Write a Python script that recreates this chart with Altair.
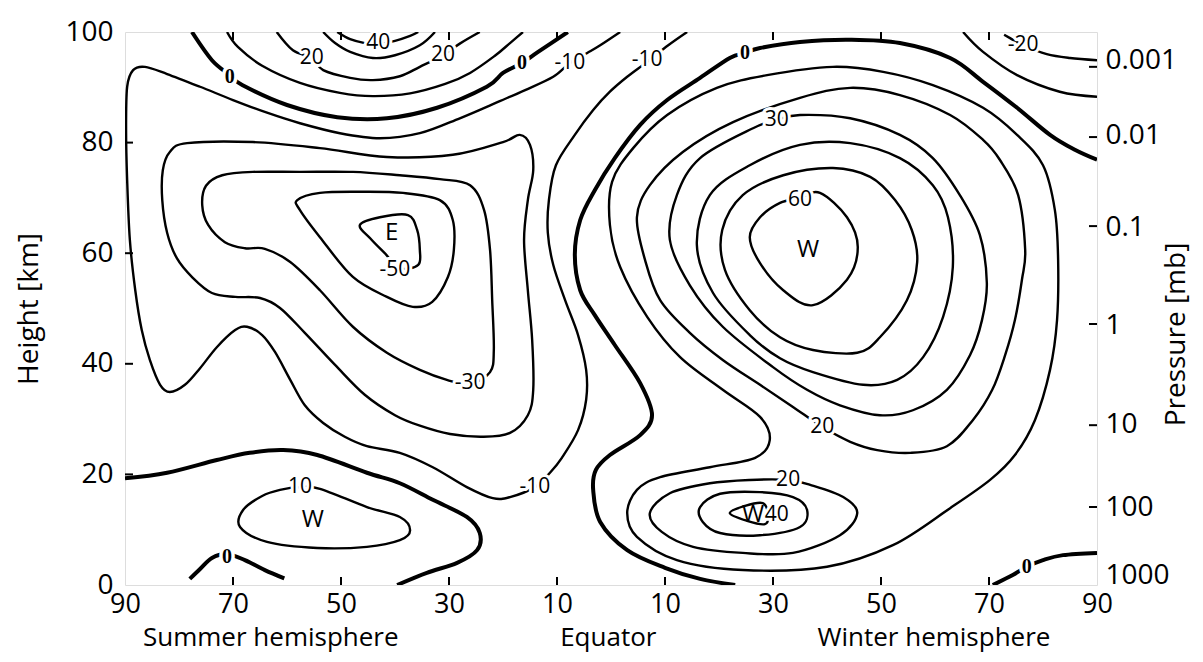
import altair as alt
import pandas as pd

# ---------------- axis values ----------------
lat_ticks = [-90, -70, -50, -30, -10, 10, 30, 50, 70, 90]
inner_lat_ticks = [-70, -50, -30, -10, 10, 30, 50, 70]
km_ticks = [0, 20, 40, 60, 80, 100]
inner_km_ticks = [20, 40, 60, 80]
p_labels = ["0.001", "0.01", "0.1", "1", "10", "100", "1000"]
p_label_km = [94.8, 81.2, 64.6, 47.0, 29.1, 14.0, 1.8]
p_tick_km = [93.7, 81.0, 64.9, 47.2, 28.9, 14.1]
region_names = ["Summer hemisphere", "Equator", "Winter hemisphere"]
region_lat = [-63, -0.5, 59.8]

# ---------------- contour lines (lat, km); negative lat = summer side ----------------
# thick zero lines
z_summer_top = [(-77.6, 100), (-73.9, 94.9), (-70.6, 92.2), (-68.3, 90.4), (-60, 86.8), (-50.7, 84.6),
                (-41.5, 84.4), (-32.2, 86.3), (-23, 90.1), (-20, 92.6), (-16.5, 94.4), (-13.5, 96.4), (-8, 100)]
z_summer_20km = [(-90, 19.3), (-82.2, 20.3), (-73, 22.6), (-66.9, 23.9), (-60.7, 24.4), (-54.4, 23.5),
                 (-45.2, 20.3), (-39.1, 18.4), (-33, 15.4), (-26.7, 12.3), (-24.3, 9.4), (-24.8, 6.3),
                 (-28.5, 4.0), (-34.1, 2.2), (-39.6, 0)]
z_summer_ground = [(-78.0, 1.1), (-76.1, 2.9), (-73.9, 4.9), (-71.1, 5.6), (-67.8, 4.5), (-64.1, 2.7), (-60.5, 1.2)]
z_equator = [(90, 76.9), (85.9, 78.7), (81.3, 81.4), (75.2, 86.3), (68.9, 91.0), (62.8, 95.3), (53.5, 98.0),
             (44.3, 98.6), (35, 98.2), (27.6, 97.1), (24.8, 96.2), (22, 95.3), (16.5, 91.7), (10.4, 87.7),
             (5.4, 83.2), (0.7, 77.2), (-3.0, 71.4), (-5.7, 66.0), (-6.7, 59.7), (-5.7, 53.3), (-3.0, 48.8),
             (0.7, 43.4), (5.4, 36.5), (7.6, 30.7), (5.4, 27.1), (-0.2, 23.5), (-2.8, 20.8), (-3.3, 17.2),
             (-2.0, 11.4), (3.0, 6.3), (10.0, 3.1), (16.5, 1.1), (23, 0)]
z_winter_ground = [(70.7, 0), (74.4, 1.8), (77, 3.3), (80, 4.5), (83.7, 5.4), (90, 5.8)]

# thin open lines
c10_top = [(-71.1, 100), (-69.1, 97.3), (-64.6, 93.9), (-57.6, 90.8), (-50.2, 89.0), (-44.1, 88.4),
           (-37.2, 88.9), (-30.7, 90.6), (-26.1, 92.6), (-21.5, 95.7), (-18.7, 98.0), (-16.3, 100)]
c20_top = [(-61.9, 100), (-58.9, 96.7), (-55.4, 95.3), (-53.3, 93.1), (-48.3, 91.7), (-44.1, 91.3),
           (-39.1, 92.0), (-35.4, 93.7), (-31.1, 95.8), (-28.0, 97.9), (-24.3, 100)]
c30_top = [(-53.3, 100), (-51.1, 98.0), (-48.3, 96.4), (-44.1, 95.3), (-40.0, 95.8), (-35.4, 97.6), (-32.6, 100)]
c40_top = [(-50.7, 100), (-48.3, 98.7), (-45.6, 98.0), (-43.1, 97.8), (-40, 98.4), (-37.2, 99.3), (-35.7, 100)]
cm10_summer = [(1.7, 100), (-2.0, 97.6), (-4.4, 96.2), (-7.6, 94.4), (-10.7, 91.9), (-15.9, 89.5),
               (-20.6, 87.5), (-28.0, 84.4), (-35.4, 81.7), (-42.8, 80.8), (-50.2, 81.7), (-57.6, 83.5),
               (-63.7, 85.4), (-70, 87.7), (-76.1, 90.1), (-82.2, 92.4), (-86.3, 93.7), (-88.5, 93.1),
               (-89.6, 90.1), (-89.8, 82.3), (-89.6, 73.2), (-89.1, 62.4), (-88.1, 53.3), (-86.9, 46.1),
               (-85.4, 40.7), (-83.5, 36.2), (-81.7, 34.9), (-78.9, 36.2), (-76.1, 39.2), (-73.0, 43.0),
               (-69.6, 46.1), (-67.4, 46.7), (-64.6, 45.2), (-62.2, 42.1), (-59.4, 37.1), (-56.7, 32.5),
               (-53.3, 29.3), (-49.3, 26.8), (-45.2, 25.1), (-39.1, 23.9), (-33.0, 21.3), (-26.7, 17.7),
               (-21.9, 15.7), (-18.7, 15.9), (-14.1, 17.7), (-11.3, 20.3), (-9.1, 23.0), (-6.1, 28.0),
               (-4.6, 33.5), (-4.6, 38.9), (-6.1, 45.2), (-8.5, 51.5), (-10.7, 57.9), (-11.7, 63.7),
               (-11.5, 69.6), (-10.2, 75.9), (-6.7, 81.4), (-3.3, 85.9), (-0.2, 89.2), (3.0, 91.9),
               (6.7, 94.6), (10.6, 97.6), (14.1, 100)]
cm10_winter_top = [(65.2, 100), (68.9, 96.4), (75.2, 92.2), (83.1, 89.2), (90, 88.3)]
cm20_winter_top = [(72.8, 99.5), (73.9, 98.9), (76.3, 97.6), (80.7, 96.0), (85, 95.3), (90, 94.9)]

# thin closed lines
cm20_summer = [(-16.9, 81.4), (-15.0, 79.6), (-14.4, 75.0), (-15.4, 69.6), (-16.1, 62.4), (-15.4, 53.3),
               (-14.6, 44.3), (-14.4, 35.3), (-15.4, 30.7), (-18.7, 27.5), (-23.7, 26.8), (-29.8, 27.3),
               (-35.4, 28.8), (-40.0, 30.7), (-45.6, 34.4), (-51.1, 39.8), (-56.7, 45.6), (-61.3, 50.1),
               (-65.0, 51.9), (-69.6, 52.1), (-73.9, 52.8), (-77.4, 55.5), (-80.4, 59.1), (-82.2, 63.7),
               (-83.1, 69.6), (-83.0, 75.0), (-81.7, 78.3), (-78.5, 79.9), (-66.3, 80.1), (-53.9, 79.0),
               (-41.5, 77.4), (-29.3, 77.8), (-20, 80.1)]
cm30_summer = [(-30.4, 37.1), (-26.1, 36.3), (-22.4, 38.5), (-21.7, 42.5), (-22.0, 51.5), (-22.4, 60.6),
               (-23.5, 67.8), (-26.1, 72.3), (-31.7, 73.4), (-39.1, 74.1), (-47.8, 74.7), (-57.6, 74.7),
               (-66.3, 74.7), (-72.0, 74.1), (-75.0, 72.2), (-75.7, 68.7), (-74.6, 65.1), (-71.5, 62.0),
               (-67.8, 60.9), (-64.1, 60.8), (-59.4, 58.4), (-53.9, 53.3), (-47.8, 46.7), (-41.5, 42.0),
               (-35.4, 38.9)]
cm40_summer = [(-58.1, 69.6), (-53.9, 70.9), (-46.5, 71.1), (-38.5, 70.9), (-31.7, 69.6), (-29.3, 66.0),
               (-29.1, 60.6), (-30.2, 55.7), (-33.1, 51.2), (-36.7, 50.3), (-41.5, 52.1), (-47.8, 55.7),
               (-53.9, 62.9), (-57.6, 67.8)]
cm50_summer = [(-46.5, 65.1), (-42.8, 66.5), (-37.6, 66.9), (-35.9, 64.2), (-35.4, 60.6), (-35.7, 57.9),
               (-39.1, 57.3), (-41.9, 60.0), (-44.6, 62.7)]
c10_summer_low = [(-61.3, 17.2), (-57.6, 17.7), (-53.9, 17.4), (-45.2, 14.1), (-39.1, 12.3), (-37.2, 9.9),
                  (-39.1, 8.1), (-45.2, 6.9), (-54.4, 6.7), (-63.7, 7.8), (-68.7, 10.5), (-68.1, 13.6),
                  (-64.6, 16.1)]
c10_winter = [(41.1, 93.7), (50.4, 92.8), (59.6, 90.4), (68.9, 86.3), (75.2, 81.4), (80, 75.9), (82.2, 67.8),
              (82.8, 58.8), (82.6, 47.9), (81.3, 38.9), (78.5, 29.8), (74.8, 23.5), (70.2, 19.0),
              (62.8, 13.9), (52.2, 7.2), (40, 3.3), (24.4, 2.7), (12.2, 4.5), (4.8, 8.7), (3.0, 13.0),
              (4.8, 17.2), (9.1, 19.5), (18.3, 21.3), (26.7, 23.0), (29.4, 26.2), (27.6, 30.4), (20.7, 35.3),
              (12.8, 41.2), (6.7, 48.5), (1.7, 57.5), (-0.2, 65.1), (0.2, 72.9), (4.1, 79.0), (10.4, 85.0),
              (19.6, 89.9), (28.9, 92.2)]
c20_winter = [(4.8, 66.5), (6.3, 58.8), (9.1, 51.5), (14.6, 45.6), (20.7, 40.7), (27.6, 36.2), (33.7, 32.2),
              (39.1, 28.6), (44.3, 25.9), (49.3, 24.4), (55.4, 23.9), (62.2, 25.1), (67.0, 29.8),
              (70.6, 35.3), (73.0, 41.6), (74.8, 47.9), (76.1, 55.2), (76.7, 60.6), (75.4, 70.5),
              (72.0, 76.9), (68.9, 80.5), (62.8, 85.0), (53.5, 88.6), (44.3, 89.9), (35, 88.1), (22.6, 83.7),
              (13.3, 78.3), (7.2, 72.3)]
c30_winter = [(12.2, 70.5), (16.5, 77.2), (26.3, 82.6), (30.7, 84.1), (35, 85.0), (44.3, 84.4), (53.5, 81.4),
              (59.6, 77.2), (64.6, 70.5), (68.3, 63.3), (69.6, 54.6), (68.7, 47.9), (66.5, 41.6), (62.2, 35.3),
              (55.9, 31.6), (49.8, 30.7), (42.4, 32.5), (36.3, 35.3), (30, 39.4), (20.7, 46.7), (14.6, 54.2),
              (10.9, 62.4)]
c40_winter = [(18.3, 70.5), (25.7, 75.9), (35, 79.6), (44.3, 79.9), (53.5, 77.2), (59.6, 72.3), (62.4, 66.5),
              (63.3, 57.5), (61.5, 48.5), (57.8, 41.2), (53.0, 37.1), (46.7, 36.2), (37.4, 38.5), (31.3, 41.0),
              (25.7, 45.2), (18.9, 52.8), (15.9, 61.5)]
c50_winter = [(24.4, 70.5), (31.9, 74.1), (41.1, 75.4), (48.0, 73.8), (52.6, 69.6), (55.7, 64.2), (56.7, 58.4),
              (54.8, 51.5), (49.8, 44.8), (45.6, 42.0), (37.4, 42.5), (31.3, 44.8), (25.7, 49.7), (21.1, 57.0),
              (20.6, 64.2)]
c60_winter = [(35, 70.0), (38.7, 70.9), (43.7, 66.5), (45.7, 61.1), (43.7, 55.2), (37.4, 50.6), (31.9, 53.3),
              (27.6, 58.2), (25.7, 62.9), (27.6, 66.5), (31.3, 69.1)]
c20_low = [(32.8, 19.0), (25.7, 19.0), (18.3, 18.4), (10.9, 16.6), (7.2, 13.0), (9.4, 9.6), (15.2, 6.9),
           (24.4, 5.8), (33.7, 5.8), (42.4, 9.0), (45.6, 13.0), (43.0, 15.9), (36.9, 18.1)]
c30_low = [(16.5, 14.1), (20.2, 16.5), (27.6, 16.8), (33.7, 15.9), (36.3, 13.6), (35, 10.5), (27.6, 9.0),
           (20.2, 9.4), (17.0, 11.4)]
c40_low = [(22.0, 13.0), (24.8, 14.3), (28.1, 14.8), (29.1, 12.7), (28.5, 11.0), (25.2, 11.6)]

# ---------------- contour labels ----------------
label_text = ["40", "20", "20", "-10", "-10", "30", "60", "-20", "-50", "-30", "-10", "10", "20", "20", "40"]
label_lat = [-43.1, -55.4, -31.1, -7.6, 6.7, 30.7, 35, 76.3, -40, -26.1, -14.1, -57.6, 39.1, 32.8, 30.7]
label_km = [98.0, 95.3, 95.8, 94.4, 94.9, 84.1, 69.6, 97.6, 57.0, 36.5, 17.7, 17.7, 28.6, 19.0, 12.7]
zero_lat = [-70.6, -16.5, 24.8, -71.1, 77.0]
zero_km = [91.9, 94.4, 96.2, 5.1, 3.3]
letter_text = ["E", "W", "W", "W"]
letter_lat = [-40.6, 36.5, -55.2, 26.3]
letter_km = [63.7, 60.6, 11.8, 12.7]

FONT = "Open Sans"


def curves_df(curves):
    rows = []
    for name, pts in curves.items():
        for i, (la, km) in enumerate(pts):
            rows.append({"cid": name, "i": i, "lat": la, "km": km})
    return pd.DataFrame(rows)


thick_df = curves_df({"z1": z_summer_top, "z2": z_summer_20km, "z3": z_summer_ground,
                      "z4": z_equator, "z5": z_winter_ground})
open_df = curves_df({"a": c10_top, "b": c20_top, "c": c30_top, "d": c40_top, "e": cm10_summer,
                     "f": cm10_winter_top, "g": cm20_winter_top})
closed_df = curves_df({"a": cm20_summer, "b": cm30_summer, "c": cm40_summer, "d": cm50_summer,
                       "e": c10_summer_low, "f": c10_winter, "g": c20_winter, "h": c30_winter,
                       "i": c40_winter, "j": c50_winter, "k": c60_winter, "l": c20_low, "m": c30_low,
                       "n": c40_low})

labels_df = pd.DataFrame({"t": label_text, "lat": label_lat, "km": label_km})
zeros_df = pd.DataFrame({"t": ["0"] * len(zero_lat), "lat": zero_lat, "km": zero_km})
letters_df = pd.DataFrame({"t": letter_text, "lat": letter_lat, "km": letter_km})
regions_df = pd.DataFrame({"t": region_names, "lat": region_lat})
lat_tick_df = pd.DataFrame({"lat": inner_lat_ticks})
km_tick_df = pd.DataFrame({"km": inner_km_ticks})
p_tick_df = pd.DataFrame({"km": p_tick_km})

xs = alt.Scale(domain=[-90, 90], nice=False, zero=False)
ys = alt.Scale(domain=[0, 100], nice=False, zero=False)

x_axis = alt.Axis(orient="bottom", values=lat_ticks, labelExpr="'' + abs(datum.value)", ticks=False,
                  domain=False, grid=False, labelFontSize=27, labelFont=FONT, labelColor="black",
                  labelPadding=6, labelFlush=False, labelOverlap=False, title=None)
y_axis = alt.Axis(values=km_ticks, ticks=False, domain=False, grid=False, labelFontSize=28,
                  labelFont=FONT, labelColor="black", labelPadding=12, labelOverlap=False,
                  title="Height [km]", titleFont=FONT, titleFontSize=28, titleFontWeight="normal",
                  titleColor="black", titleAngle=270, titleX=-96, titleY=276.5, titleBaseline="middle")

p_expr = "''"
for v, t in reversed(list(zip(p_label_km, p_labels))):
    p_expr = f"abs(datum.value - {v}) < 0.01 ? '{t}' : ({p_expr})"
p_axis = alt.Axis(orient="right", values=p_label_km, labelExpr=p_expr, ticks=False, domain=False,
                  grid=False, labelFontSize=28, labelFont=FONT, labelColor="black", labelPadding=8,
                  labelOverlap=False, title="Pressure [mb]", titleFont=FONT, titleFontSize=28,
                  titleFontWeight="normal", titleColor="black", titleAngle=270, titleX=79, titleY=302,
                  titleBaseline="middle")

# every layer that has a lat field shares the same x axis definition
X0 = alt.X("lat:Q", scale=xs, axis=x_axis)
Y0 = alt.Y("km:Q", scale=ys, axis=None)

thin_open = alt.Chart(open_df).mark_line(interpolate="cardinal", strokeWidth=2.4, color="black",
                                         clip=True).encode(
    x=X0, y=alt.Y("km:Q", scale=ys, axis=y_axis), detail="cid:N", order="i:Q")
thin_closed = alt.Chart(closed_df).mark_line(interpolate="cardinal-closed", strokeWidth=2.4,
                                             color="black", clip=True).encode(
    x=X0, y=Y0, detail="cid:N", order="i:Q")
thick = alt.Chart(thick_df).mark_line(interpolate="cardinal", strokeWidth=4, color="black",
                                      clip=True).encode(x=X0, y=Y0, detail="cid:N", order="i:Q")

bottom_ticks = alt.Chart(lat_tick_df).mark_rule(color="black", strokeWidth=2).encode(
    x=X0, y=alt.value(553), y2=alt.value(545))
top_ticks = alt.Chart(lat_tick_df).mark_rule(color="black", strokeWidth=2).encode(
    x=X0, y=alt.value(0), y2=alt.value(8))
left_ticks = alt.Chart(km_tick_df).mark_rule(color="black", strokeWidth=2).encode(
    y=Y0, x=alt.value(0), x2=alt.value(8))
right_ticks = alt.Chart(p_tick_df).mark_rule(color="black", strokeWidth=2).encode(
    y=alt.Y("km:Q", scale=ys, axis=p_axis), x=alt.value(964), x2=alt.value(972))

halo = alt.Chart(labels_df).mark_text(font=FONT, fontSize=21, color="white", stroke="white",
                                      strokeWidth=6, strokeJoin="round", baseline="middle").encode(
    x=X0, y=Y0, text="t:N")
labels = alt.Chart(labels_df).mark_text(font=FONT, fontSize=21, color="black",
                                        baseline="middle").encode(x=X0, y=Y0, text="t:N")
zero_halo = alt.Chart(zeros_df).mark_text(font="Liberation Serif", fontWeight="bold", fontSize=20,
                                          color="white", stroke="white", strokeWidth=7,
                                          strokeJoin="round", baseline="middle").encode(
    x=X0, y=Y0, text="t:N")
zero_labels = alt.Chart(zeros_df).mark_text(font="Liberation Serif", fontWeight="bold", fontSize=20,
                                            color="black", baseline="middle").encode(
    x=X0, y=Y0, text="t:N")
letters = alt.Chart(letters_df).mark_text(font=FONT, fontSize=24, color="black",
                                          baseline="middle").encode(x=X0, y=Y0, text="t:N")
regions = alt.Chart(regions_df).mark_text(font=FONT, fontSize=26, color="black",
                                          baseline="alphabetic").encode(
    x=X0, y=alt.value(614), text="t:N")

chart = alt.layer(
    thin_open, right_ticks, thin_closed, thick, bottom_ticks, top_ticks, left_ticks,
    halo, labels, zero_halo, zero_labels, letters, regions
).resolve_axis(y="independent").properties(
    width=972, height=553,
    autosize=alt.AutoSizeParams(type="none"),
    padding={"left": 117, "top": 24, "right": 98, "bottom": 69},
    background="white",
).configure_view(stroke="black", strokeWidth=2).configure(font=FONT)

chart.save("out.html", embed_options={"renderer": "svg", "actions": False})
